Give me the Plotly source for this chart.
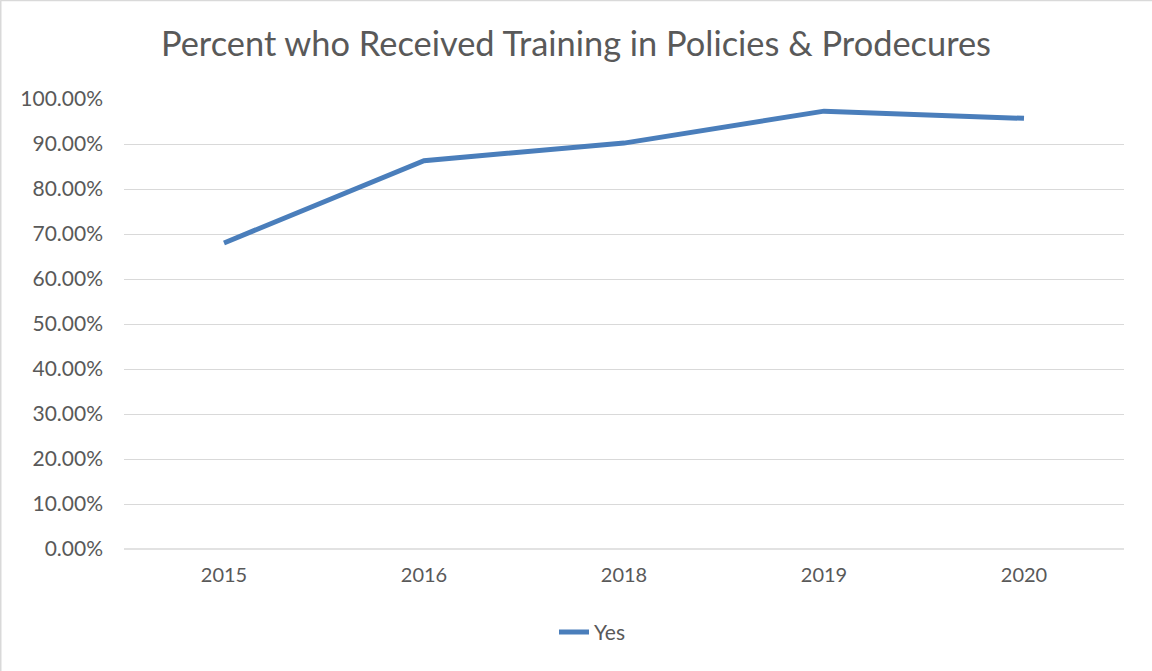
import plotly.graph_objects as go

years = ["2015", "2016", "2018", "2019", "2020"]
yes_values = [0.680, 0.863, 0.902, 0.973, 0.957]
y_ticks = [0, 0.1, 0.2, 0.3, 0.4, 0.5, 0.6, 0.7, 0.8, 0.9, 1.0]

font_family = "Lato, 'Open Sans', 'Liberation Sans', sans-serif"

fig = go.Figure()
fig.add_trace(go.Scatter(
    x=years, y=yes_values, mode="lines", name="Yes",
    line=dict(color="#4a7ebb", width=5),
))

fig.update_layout(
    width=1152, height=671,
    paper_bgcolor="white", plot_bgcolor="white",
    margin=dict(l=124, r=28, t=99, b=122),
    title=dict(text="Percent who Received Training in Policies &amp; Prodecures",
               x=0.5, xanchor="center", y=0.935, yanchor="middle",
               font=dict(family=font_family, size=34.4, color="#595959")),
    font=dict(family=font_family, size=20, color="#595959"),
    showlegend=True,
    legend=dict(orientation="h", x=0.468, xanchor="center", y=-0.185, yanchor="middle",
                font=dict(size=21, color="#595959")),
    xaxis=dict(type="category", range=[-0.5, 4.5], showgrid=False, showline=False,
               ticks="", ticklabelstandoff=12, zeroline=False),
    yaxis=dict(range=[0, 1.0], tickvals=y_ticks, tickformat=".2%",
               showgrid=True, gridcolor="#d9d9d9", gridwidth=1.3,
               zeroline=False, showline=False, ticks="", ticklabelstandoff=20,
               tickfont=dict(size=21)),
)

fig.add_shape(type="line", xref="paper", yref="paper", x0=0, x1=1, y0=0, y1=0,
              line=dict(color="#d9d9d9", width=1.3))
# chart-area border (top and left edges visible in reference)
fig.add_shape(type="line", xref="paper", yref="paper",
              x0=-0.1235, x1=1.03, y0=1.2195, y1=1.2195,
              line=dict(color="#d9d9d9", width=2), layer="below")
fig.add_shape(type="line", xref="paper", yref="paper",
              x0=-0.1235, x1=-0.1235, y0=-0.275, y1=1.2195,
              line=dict(color="#d9d9d9", width=2), layer="below")

fig.write_html("out.html", config={"displayModeBar": False},
               post_script="document.body.style.margin='0';")
